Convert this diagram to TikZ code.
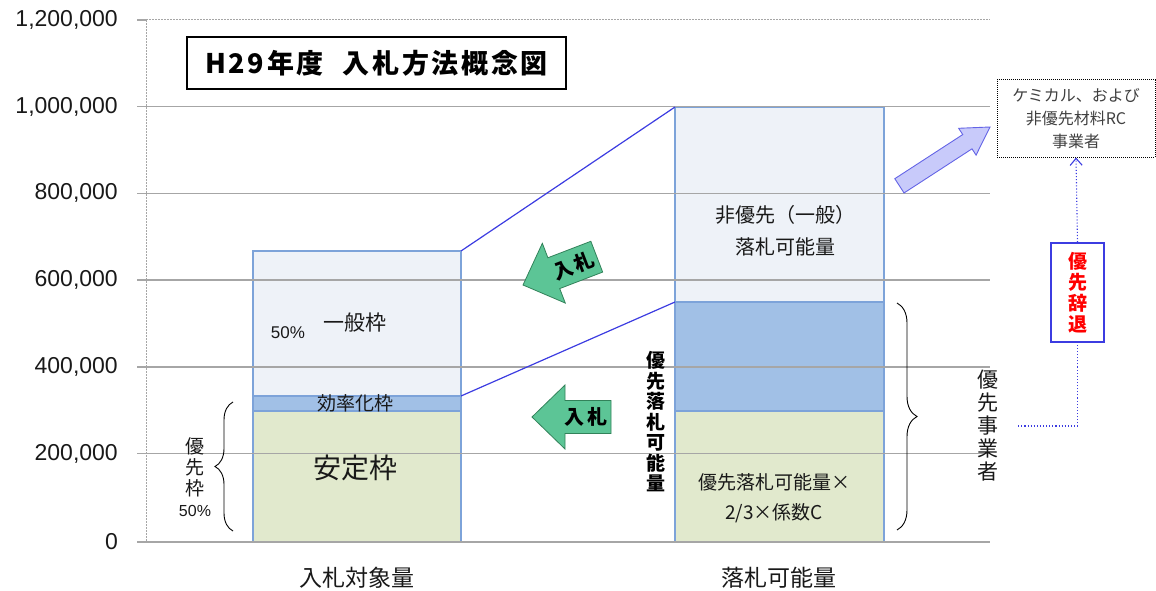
\documentclass[tikz,border=0pt]{standalone}
\usepackage{fontspec}
\setmainfont{Noto Sans CJK JP}
\newfontfamily\numfont{Liberation Sans}
\usetikzlibrary{decorations.pathreplacing,arrows.meta}
\definecolor{barline}{RGB}{125,163,217}
\definecolor{genfill}{RGB}{238,242,248}
\definecolor{bluefill}{RGB}{161,192,230}
\definecolor{greenfill}{RGB}{225,233,205}
\definecolor{gridgray}{RGB}{166,166,166}
\definecolor{arrowgreen}{RGB}{92,197,150}
\definecolor{arrowedge}{RGB}{50,130,90}
\definecolor{lavfill}{RGB}{200,202,250}
\definecolor{lavedge}{RGB}{100,100,230}
\definecolor{linkblue}{RGB}{60,60,225}
\definecolor{txtgray}{RGB}{25,25,25}
\begin{document}
\begin{tikzpicture}[x=1pt,y=-1pt,
  seg/.style={draw=barline, line width=1.3pt, inner sep=0pt, outer sep=0pt, anchor=north west},
  gridln/.style={draw=gridgray, line width=1.2pt},
  ylab/.style={anchor=east, font=\numfont\fontsize{23}{23}\selectfont, text=txtgray, inner sep=0pt},
  greenarrow/.style={fill=arrowgreen, draw=arrowedge, line width=0.8pt},
  arrtext/.style={font=\bfseries\fontsize{20}{20}\selectfont, inner sep=0pt},
  link/.style={draw=linkblue, line width=1.2pt},
  dotlink/.style={draw=linkblue, line width=1.1pt, dotted},
  vtext/.style={align=center, inner sep=0pt}
]
\useasboundingbox (0,0) rectangle (1156,591);

% bars
\node[seg, fill=genfill, minimum width=208pt, minimum height=145pt] (gen) at (253,251) {};
\node[seg, fill=bluefill, minimum width=208pt, minimum height=15pt] (eff) at (253,396) {};
\node[seg, fill=greenfill, minimum width=208pt, minimum height=131pt] (stab) at (253,411) {};
\node[seg, fill=genfill, minimum width=209pt, minimum height=195pt] (nonpri) at (675,107) {};
\node[seg, fill=bluefill, minimum width=209pt, minimum height=109pt] (pblue) at (675,302) {};
\node[seg, fill=greenfill, minimum width=209pt, minimum height=131pt] (pgreen) at (675,411) {};

% grid and axes
\draw[gridgray, line width=1pt, dash pattern=on 2pt off 1pt] (146,20) -- (990,20);
\foreach \yy in {106.7,193.3,280,367,453.5}{
  \draw[gridln] (137,\yy) -- (990,\yy);
}
\draw[gridln] (137,20) -- (146,20);
\draw[gridln] (137,542) -- (990,542);
\draw[gridgray, line width=1pt, dash pattern=on 2pt off 1pt] (146,20) -- (146,542);

% y labels
\node[ylab] (l12) at (118,20) {1,200,000};
\node[ylab] (l10) at (118,106.7) {1,000,000};
\node[ylab] (l8) at (118,193.3) {800,000};
\node[ylab] (l6) at (118,280) {600,000};
\node[ylab] (l4) at (118,367) {400,000};
\node[ylab] (l2) at (118,453.5) {200,000};
\node[ylab] (l0) at (118,542) {0};

% x labels
\node[font=\fontsize{23}{23}\selectfont, text=txtgray] (xl1) at (357,578) {入札対象量};
\node[font=\fontsize{23}{23}\selectfont, text=txtgray] (xl2) at (779,578) {落札可能量};

% title
\node[draw=black, line width=1.6pt, minimum width=379pt, minimum height=52pt, font=\bfseries\fontsize{27}{27}\selectfont\addfontfeatures{LetterSpace=10}] (title) at (376.5,63) {H29年度\hspace{0.7em}入札方法概念図};

% left bar texts
\node[font=\numfont\fontsize{17}{17}\selectfont, text=txtgray] (p50) at (288,333) {50\%};
\node[font=\fontsize{21}{21}\selectfont, text=txtgray] (gentxt) at (355,323) {一般枠};
\node[font=\fontsize{19}{19}\selectfont, text=txtgray, inner sep=0pt] (efftxt) at (355,403) {効率化枠};
\node[font=\fontsize{28}{28}\selectfont, text=txtgray] (stabtxt) at (355,468) {安定枠};

% left brace and label
\draw[line width=0.9pt, decorate, decoration={brace, amplitude=18pt}] (233,531) -- (233,402);
\node[vtext, font=\fontsize{19}{21}\selectfont, text=txtgray] (priwaku) at (195,477) {優\\先\\枠\\{\numfont\fontsize{16}{16}\selectfont 50\%}};

% right bar texts
\node[vtext, font=\fontsize{20}{32}\selectfont, text=txtgray] (nontxt) at (785,231) {非優先（一般）\\落札可能量};
\node[vtext, font=\fontsize{19}{30}\selectfont, text=txtgray] (ptxt) at (774,498) {優先落札可能量×\\2/3×係数C};
\node[vtext, font=\bfseries\fontsize{19}{20.5}\selectfont] (pvert) at (656,422) {優\\先\\落\\札\\可\\能\\量};

% right brace
\draw[line width=0.9pt, decorate, decoration={brace, amplitude=20pt}] (897,303) -- (897,530);
\node[vtext, font=\fontsize{21}{23}\selectfont, text=txtgray, minimum width=60pt] (jigyo) at (988,426) {優\\先\\事\\業\\者};

% blue link lines
\draw[link] (gen.north east) -- (nonpri.north west);
\draw[link] (eff.north east) -- (pblue.north west);

% green arrows
\begin{scope}[shift={(523,285)}, rotate=21]
  \draw[greenarrow] (0,0) -- (33,-32) -- (33,-16.5) -- (79,-16.5) -- (79,16.5) -- (33,16.5) -- (33,32) -- cycle;
  \node[arrtext, rotate=21] (bid1) at (54,0) {入\hspace{3pt}札};
\end{scope}
\begin{scope}[shift={(532,417)}]
  \draw[greenarrow] (0,0) -- (33,-32) -- (33,-16.5) -- (79,-16.5) -- (79,16.5) -- (33,16.5) -- (33,32) -- cycle;
  \node[arrtext] (bid2) at (54,0) {入\hspace{3pt}札};
\end{scope}

% lavender arrow
\begin{scope}[shift={(990,127)}, rotate=33]
  \draw[fill=lavfill, draw=lavedge, line width=0.9pt] (0,0) -- (-27,-16) -- (-27,-8.5) -- (-108,-8.5) -- (-108,8.5) -- (-27,8.5) -- (-27,16) -- cycle;
\end{scope}

% chemical box
\node[draw=black, line width=1pt, densely dotted, minimum width=158pt, minimum height=77pt, align=center, font=\fontsize{16}{23}\selectfont, text=black!75] (chem) at (1076,118.5) {ケミカル、および\\非優先材料RC\\事業者};

% priority withdrawal box
\node[draw=linkblue, line width=1.6pt, minimum width=53pt, minimum height=99pt, align=center, font=\bfseries\fontsize{19}{21}\selectfont, text=red] (jitai) at (1077.5,292.5) {優\\先\\辞\\退};

% dotted connectors
\draw[dotlink] (jigyo.east) -| (jitai.south);
\draw[dotlink, -{Straight Barb[length=7pt, width=12pt]}] (jitai.north) -- (chem.south);
\end{tikzpicture}
\end{document}
